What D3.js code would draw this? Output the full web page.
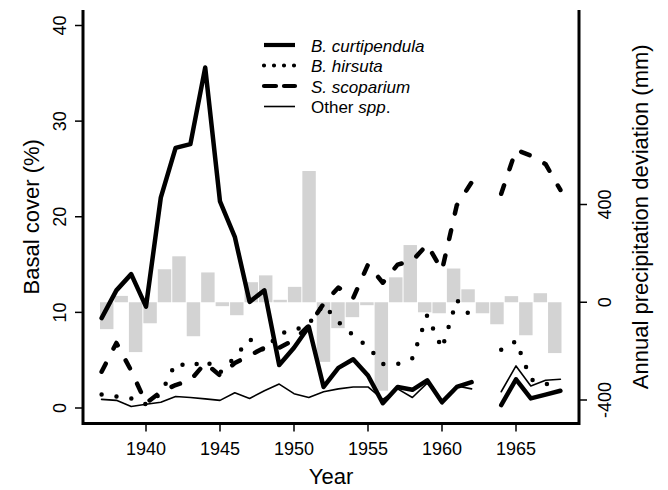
<!DOCTYPE html>
<html><head><meta charset="utf-8">
<script src="https://cdn.jsdelivr.net/npm/d3@7/dist/d3.min.js"></script>
<style>
body{margin:0;background:#fff}
svg{display:block}
text{font-family:"Liberation Sans",Arial,Helvetica,sans-serif;fill:#000}
</style>
</head><body>
<svg id="chart" width="668" height="490"></svg>
<script>
const years = [1937,1938,1939,1940,1941,1942,1943,1944,1945,1946,1947,1948,1949,1950,1951,1952,1953,1954,1955,1956,1957,1958,1959,1960,1961,1962,1963,1964,1965,1966,1967,1968];
const precipDeviation = [-110,26,-204,-86,135,188,-139,122,-16,-53,82,110,10,63,537,-244,-106,-61,-12,-362,102,234,-41,-45,138,53,-45,-90,25,-135,37,-208];
const curtipendula = [9.4,12.3,14.0,10.6,22.0,27.2,27.6,35.6,21.6,17.9,11.1,12.3,4.5,6.3,8.5,2.2,4.2,5.1,3.4,0.5,2.2,1.9,2.9,0.6,2.2,2.7,null,0.3,3.0,1.0,1.4,1.8];
const hirsuta = [1.4,1.2,1.0,0.4,1.5,4.7,4.3,5.0,3.7,5.3,7.2,6.0,7.8,8.1,8.8,10.8,9.0,7.6,6.4,4.6,4.6,5.2,9.7,6.2,11.3,9.5,null,6.1,7.0,3.0,2.5,2.6];
const scoparium = [3.8,6.8,3.9,0.5,1.7,2.4,2.9,4.7,3.4,4.7,5.5,6.3,6.3,7.1,8.6,10.9,12.6,11.5,15.0,13.1,15.0,15.4,17.1,14.4,21.2,23.6,null,22.4,27.0,26.4,25.5,22.8];
const otherSpp = [0.9,0.8,0.15,0.4,0.6,1.2,1.1,0.95,0.8,1.6,1.0,1.8,2.5,1.5,1.1,1.7,2.0,2.2,2.2,0.9,2.0,1.1,2.6,0.8,2.3,2.0,null,1.7,4.4,2.3,2.9,3.0];
const xTicks = [1940,1945,1950,1955,1960,1965];
const leftTicks = [0,10,20,30,40];
const rightTicks = [-400,0,400];
const legendLabels = [
  {parts:[["B. curtipendula",true]]},
  {parts:[["B. hirsuta",true]]},
  {parts:[["S. scoparium",true]]},
  {parts:[["Other ",false],["spp",true],[".",false]]}
];

const svg = d3.select("#chart");
const x = d3.scaleLinear().domain([1940,1965]).range([146,516]);
const yL = d3.scaleLinear().domain([0,40]).range([408,25.5]);
const yR = d3.scaleLinear().domain([-400,400]).range([400,204.5]);
const xb = d3.scaleBand().domain(years).range([x(1937)-1.6, x(1968)+1.1]).paddingInner(0.07);

const box = {l:83, r:579, t:10, b:423.5};

// bars
svg.append("g").selectAll("rect").data(years.map((yr,i)=>({yr, v:precipDeviation[i]})))
  .join("rect")
  .attr("x", d=>xb(d.yr))
  .attr("width", xb.bandwidth())
  .attr("y", d=>Math.min(yR(d.v), yR(0)))
  .attr("height", d=>Math.abs(yR(d.v)-yR(0)))
  .attr("fill", "#d3d3d3");

const series = [
  {vals:curtipendula, w:4.5, dash:null, ldash:null},
  {vals:hirsuta, w:4.5, dash:"0,15", ldash:"0,10"},
  {vals:scoparium, w:4.5, dash:"9,17", ldash:"12,8"},
  {vals:otherSpp, w:1.6, dash:null, ldash:null}
];
const line = d3.line().defined(d=>d.v!=null).x(d=>x(d.yr)).y(d=>yL(d.v));
const lg = svg.append("g");
[3,1,2,0].forEach(k=>{
  const s = series[k];
  lg.append("path")
    .datum(years.map((yr,i)=>({yr, v:s.vals[i]})))
    .attr("d", line)
    .attr("fill","none")
    .attr("stroke","#000")
    .attr("stroke-width", s.w)
    .attr("stroke-linecap","round")
    .attr("stroke-linejoin","round")
    .attr("stroke-dasharray", s.dash);
});

// frame
const fr = svg.append("g").attr("stroke","#000").attr("stroke-width",3).attr("fill","none");
fr.append("path").attr("d", `M${box.l},${box.t}V${box.b}H${box.r}V${box.t}`).attr("stroke-linejoin","miter");

// x axis ticks
const ax = svg.append("g");
ax.selectAll("line.xt").data(xTicks).join("line")
  .attr("x1", d=>x(d)).attr("x2", d=>x(d))
  .attr("y1", box.b).attr("y2", box.b+8)
  .attr("stroke","#000").attr("stroke-width",1.5);
ax.selectAll("text.xt").data(xTicks).join("text")
  .attr("x", d=>x(d)).attr("y", 455)
  .attr("text-anchor","middle").attr("font-size",18)
  .text(d=>d);

// left axis
ax.selectAll("line.yl").data(leftTicks).join("line")
  .attr("x1", box.l).attr("x2", box.l-8)
  .attr("y1", d=>yL(d)).attr("y2", d=>yL(d))
  .attr("stroke","#000").attr("stroke-width",1.5);
ax.selectAll("text.yl").data(leftTicks).join("text")
  .attr("transform", d=>`translate(66,${yL(d)}) rotate(-90)`)
  .attr("text-anchor","middle").attr("font-size",18)
  .text(d=>d);

// right axis
ax.selectAll("line.yr").data(rightTicks).join("line")
  .attr("x1", box.r).attr("x2", box.r+8)
  .attr("y1", d=>yR(d)).attr("y2", d=>yR(d))
  .attr("stroke","#000").attr("stroke-width",1.5);
ax.selectAll("text.yr").data(rightTicks).join("text")
  .attr("transform", d=>`translate(611,${yR(d)}) rotate(-90)`)
  .attr("text-anchor","middle").attr("font-size",18)
  .text(d=>d);

// titles
svg.append("text").attr("x", (box.l+box.r)/2).attr("y", 484)
  .attr("text-anchor","middle").attr("font-size",22).text("Year");
svg.append("text").attr("transform", `translate(39,${(box.t+box.b)/2}) rotate(-90)`)
  .attr("text-anchor","middle").attr("font-size",22).text("Basal cover (%)");
svg.append("text").attr("transform", `translate(648,${(box.t+box.b)/2}) rotate(-90)`)
  .attr("text-anchor","middle").attr("font-size",22).text("Annual precipitation deviation (mm)");

// legend
const leg = svg.append("g");
legendLabels.forEach((L,i)=>{
  const base = 51.5 + 20.5*i;
  const s = series[i];
  leg.append("line").attr("x1",264).attr("x2",295).attr("y1",base-6.5).attr("y2",base-6.5)
    .attr("stroke","#000").attr("stroke-width", s.w===1.6?1.6:4.2)
    .attr("stroke-linecap", s.ldash ? "round" : "butt")
    .attr("stroke-dasharray", s.ldash);
  const t = leg.append("text").attr("x",311).attr("y",base).attr("font-size",17);
  L.parts.forEach(p=>t.append("tspan").attr("font-style", p[1]?"italic":"normal").text(p[0]));
});
</script>
</body></html>
